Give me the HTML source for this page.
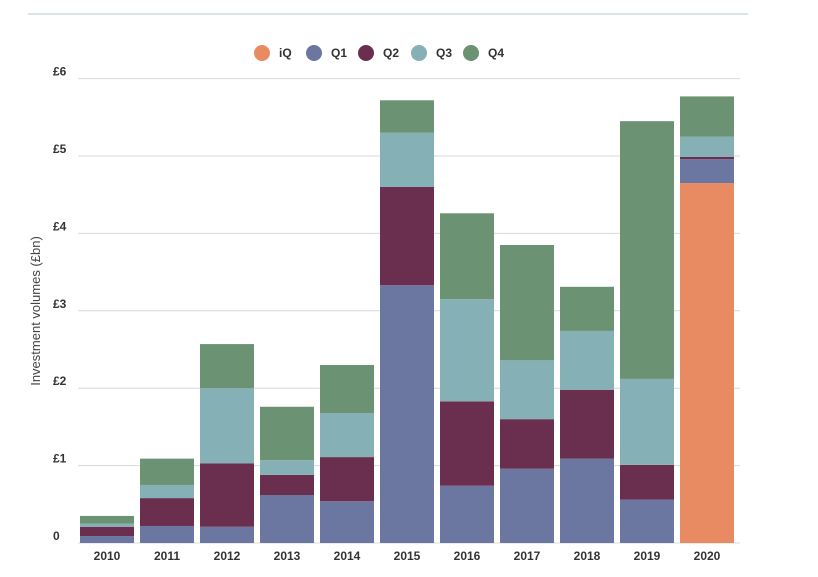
<!DOCTYPE html>
<html><head><meta charset="utf-8"><style>
body{margin:0;background:#fff;font-family:"Liberation Sans",sans-serif;}
svg text{font-family:"Liberation Sans",sans-serif;}
</style></head><body>
<svg id="chart" width="818" height="572">
<line x1="28" y1="14" x2="748" y2="14" stroke="#cfdbe3" stroke-width="1.5"/>
<g id="grid"></g><g id="bars"></g><g id="legend"></g>
<text transform="translate(40,311) rotate(-90)" text-anchor="middle" font-size="13" fill="#444">Investment volumes (£bn)</text>
</svg>
<script>
const years=["2010","2011","2012","2013","2014","2015","2016","2017","2018","2019","2020"];
const seriesNames=["iQ","Q1","Q2","Q3","Q4"];
const iQ=[0,0,0,0,0,0,0,0,0,0,4.65];
const q1=[0.09,0.22,0.21,0.62,0.54,3.33,0.74,0.96,1.09,0.56,0.31];
const q2=[0.12,0.36,0.82,0.26,0.57,1.27,1.09,0.64,0.89,0.45,0.03];
const q3=[0.04,0.17,0.97,0.19,0.57,0.70,1.32,0.76,0.76,1.11,0.26];
const q4=[0.10,0.34,0.57,0.69,0.62,0.42,1.11,1.49,0.57,3.33,0.52];
const yTicks=[0,1,2,3,4,5,6];
const yTickLabels=["0","£1","£2","£3","£4","£5","£6"];
const colors=["#e88b63","#6b77a0","#6a2e4f","#85b0b6","#6b9272"];
const NS="http://www.w3.org/2000/svg";
const y=v=>543-v*77.4;
const x=i=>80+i*60;
const bw=54;
function mk(tag,attrs,parent){const e=document.createElementNS(NS,tag);for(const k in attrs)e.setAttribute(k,attrs[k]);parent.appendChild(e);return e;}
const grid=document.getElementById('grid');
yTicks.forEach((t,i)=>{
 const l=mk('line',{x1:78,x2:740,y1:y(t),y2:y(t),stroke:'#d8d8d8','stroke-width':1},grid);
 
 
 const tx=mk('text',{x:53,y:y(t)-3,'font-size':12,'font-weight':'bold',fill:'#333'},grid);
 tx.textContent=yTickLabels[i];
 
 
});
const bars=document.getElementById('bars');
const data=[iQ,q1,q2,q3,q4];
years.forEach((yr,i)=>{
 let base=0;
 data.forEach((s,k)=>{
  const v=s[i]; if(v<=0)return;
  const r=mk('rect',{x:x(i),y:y(base+v),width:bw,height:y(base)-y(base+v),fill:colors[k]},bars);
  
  
  base+=v;
 });
 const t=mk('text',{x:x(i)+bw/2,y:560,'text-anchor':'middle','font-size':12,'font-weight':'bold',fill:'#333'},bars);
 t.textContent=yr;
 
 
});
const lg=document.getElementById('legend');
const lx=[262,314,366,419,471];
seriesNames.forEach((n,k)=>{
 const g=mk('g',{},lg);
 
 
 mk('circle',{cx:lx[k],cy:53,r:8,fill:colors[k]},g);
 const t=mk('text',{x:lx[k]+17,y:57,'font-size':12,'font-weight':'bold',fill:'#333'},g);
 t.textContent=n;
});
</script>
</body></html>
